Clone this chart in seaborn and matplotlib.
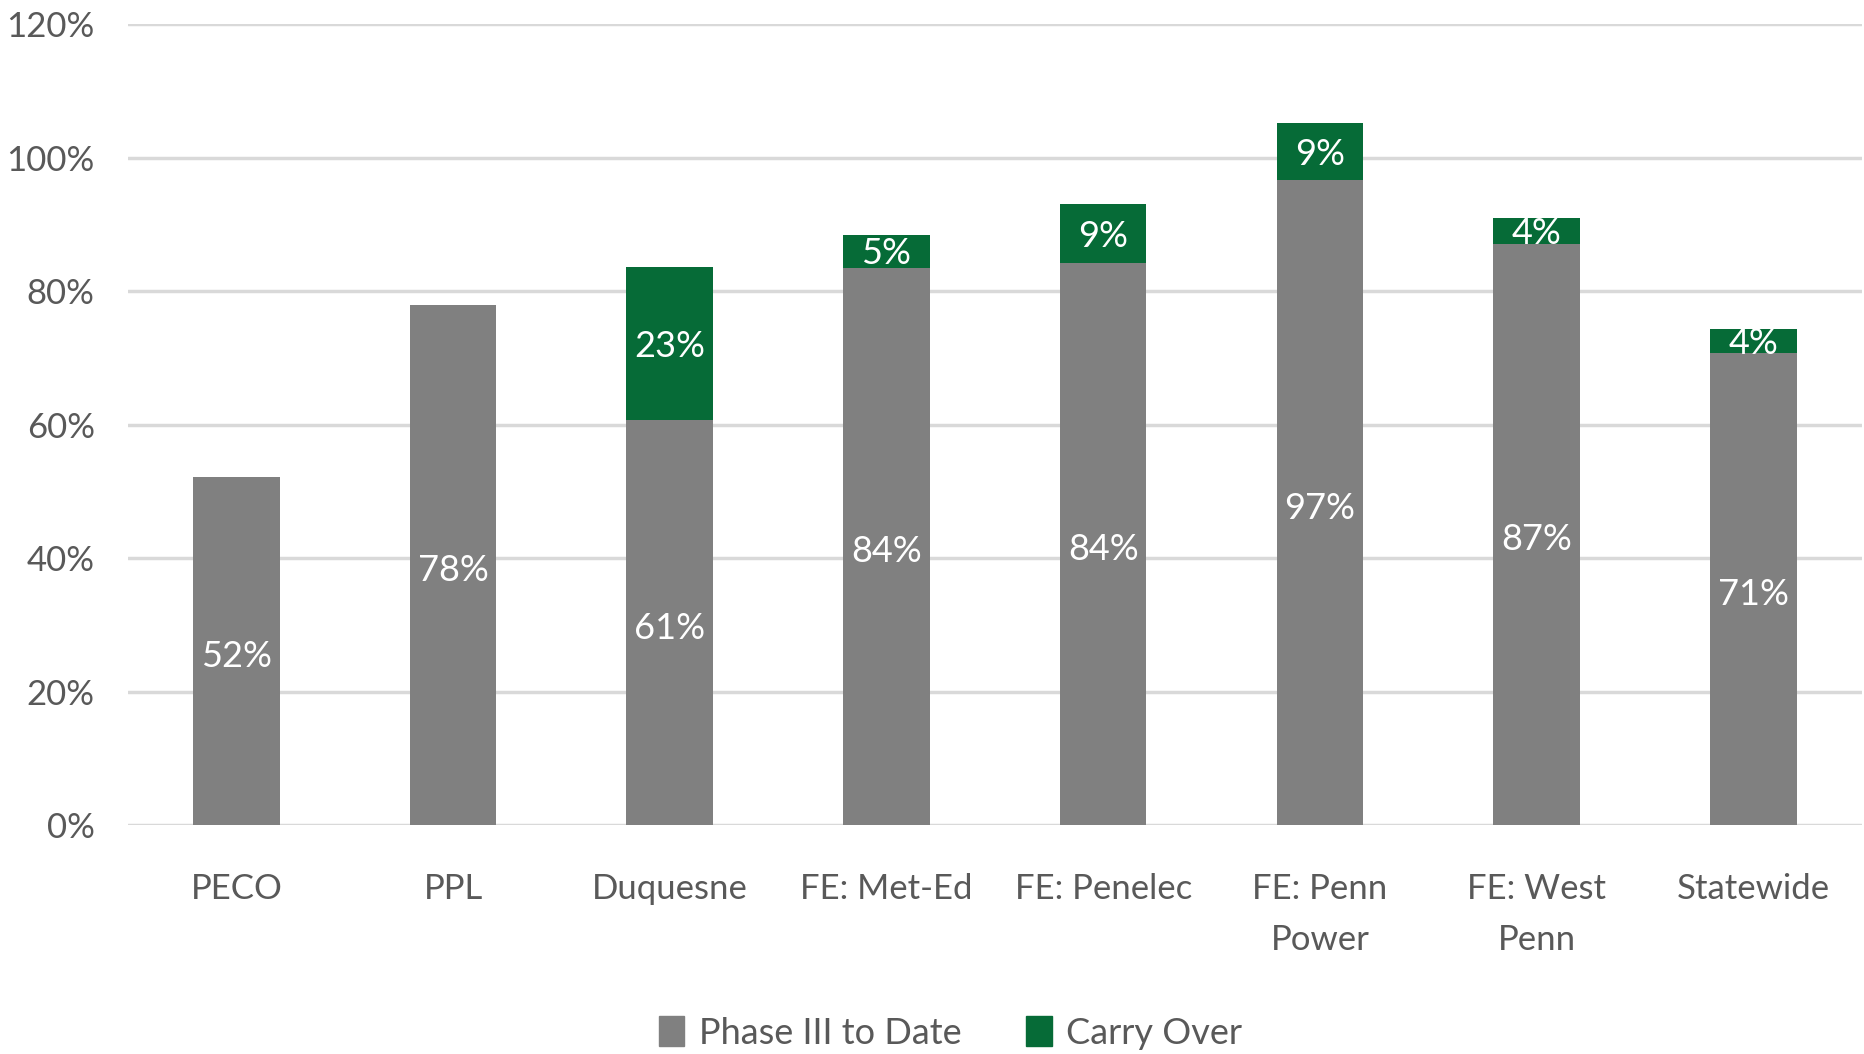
import pandas as pd
import matplotlib.pyplot as plt
import seaborn as sns
from matplotlib.patches import Patch

# datos (fraccion)
utilities = ['PECO', 'PPL', 'Duquesne', 'FE: Met-Ed', 'FE: Penelec',
             'FE: Penn\nPower', 'FE: West\nPenn', 'Statewide']
phase3 = [0.522, 0.780, 0.607, 0.835, 0.842, 0.966, 0.871, 0.707]
carry_over = [0.0, 0.0, 0.229, 0.050, 0.089, 0.086, 0.039, 0.036]

gris = '#808080'
verde = '#066B37'
texto = '#595959'

sns.set_theme(style='white')
plt.rcParams['font.family'] = ['Lato', 'DejaVu Sans']

df = pd.DataFrame({'utility': utilities, 'phase3': phase3, 'carry': carry_over})
df['total'] = df['phase3'] + df['carry']

fig = plt.figure(figsize=(18.64, 10.54), dpi=100)
ax = fig.add_axes([0.0687, 0.217, 0.930, 0.760])

# barras apiladas: total en verde y la fase III encima en gris
sns.barplot(x='utility', y='total', data=df, color=verde, saturation=1,
            width=0.4, linewidth=0, ax=ax, zorder=2)
sns.barplot(x='utility', y='phase3', data=df, color=gris, saturation=1,
            width=0.4, linewidth=0, ax=ax, zorder=3)

# etiquetas de datos
for i, row in df.iterrows():
    ax.text(i, row['phase3'] / 2 - 0.008, f"{row['phase3'] * 100:.0f}%", ha='center',
            va='center', color='white', fontsize=26, zorder=5)
    if row['carry'] > 0:
        ax.text(i, row['phase3'] + row['carry'] / 2 - 0.004, f"{row['carry'] * 100:.0f}%",
                ha='center', va='center', color='white', fontsize=26, zorder=5)

ax.set_ylim(0, 1.2)
ax.set_yticks([0, 0.2, 0.4, 0.6, 0.8, 1.0, 1.2])
ax.set_yticklabels([f'{int(v * 100)}%' for v in ax.get_yticks()])
ax.set_xlim(-0.5, 7.5)
ax.yaxis.grid(True, color='#D9D9D9', linewidth=2.5, zorder=0)
ax.set_axisbelow(True)
for s in ax.spines.values():
    s.set_visible(False)
ax.set_xlabel('')
ax.set_ylabel('')
ax.tick_params(axis='both', length=0, labelsize=25, labelcolor=texto)
ax.tick_params(axis='x', pad=34)
ax.tick_params(axis='y', pad=24)
for lbl in ax.get_xticklabels():
    lbl.set_linespacing(1.75)
for lbl in ax.get_yticklabels():
    lbl.set_horizontalalignment('right')

handles = [Patch(color=gris, label='Phase III to Date'),
           Patch(color=verde, label='Carry Over')]
fig.legend(handles=handles, loc='center', bbox_to_anchor=(0.51, 0.02), ncol=2,
           frameon=False, fontsize=26, labelcolor=texto, handlelength=0.7,
           handleheight=0.9, handletextpad=0.4, columnspacing=1.8)

fig.savefig('out.png', dpi=100)
